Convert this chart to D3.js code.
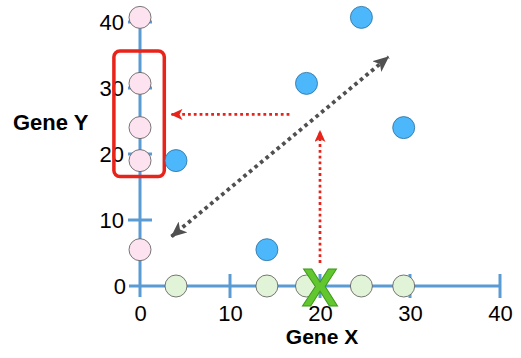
<!DOCTYPE html>
<html><head><meta charset="utf-8">
<script src="https://cdn.jsdelivr.net/npm/d3@7"></script>
<style>body{margin:0;background:#fff}svg{display:block}</style>
</head><body>
<script>
// Data
const geneX = [4, 14.1, 18.5, 24.6, 29.3];
const geneY = [19, 5.5, 30.7, 40.7, 24];
const xTicks = [0, 10, 20, 30, 40];
const yTicks = [0, 10, 20, 30, 40];
const xLabel = "Gene X";
const yLabel = "Gene Y";
const markX = [20];            // "X" marker position on Gene X axis
const diagArrow = [[3.5, 7.5], [27.6, 34.7]];
const hArrow = [[16.6, 26], [3.5, 26]];
const vArrow = [[20, 3.5], [20, 23.5]];
const boxX = [-2.9, 2.7];
const boxY = [16.6, 35.6];

const W = 521, H = 358;
const x = d3.scaleLinear().domain([0, 40]).range([140, 500]);
const y = d3.scaleLinear().domain([0, 40]).range([286, 22]);

const svg = d3.select("body").append("svg").attr("width", W).attr("height", H);
const defs = svg.append("defs");
function marker(id, color, w, h, reverse) {
  defs.append("marker").attr("id", id).attr("viewBox", `0 0 ${w} ${h}`)
    .attr("refX", reverse ? 1 : w - 1).attr("refY", h / 2).attr("markerWidth", w).attr("markerHeight", h)
    .attr("markerUnits", "userSpaceOnUse").attr("orient", "auto")
    .append("path").attr("d", reverse
      ? `M${w},0 L0,${h / 2} L${w},${h} L${w * 0.75},${h / 2} Z`
      : `M0,0 L${w},${h / 2} L0,${h} L${w * 0.25},${h / 2} Z`)
    .attr("fill", color);
}
marker("redHead", "#e8231a", 12, 11, false);
marker("grayHead", "#505050", 16, 14, false);
marker("grayHeadS", "#505050", 16, 14, true);

const axisColor = "#5b9bd3";
const font = "Liberation Sans, Arial, sans-serif";
const gx = svg.append("g").attr("transform", `translate(0,${y(0)})`)
  .call(d3.axisBottom(x).tickValues(xTicks).tickSize(0).tickPadding(0));
gx.select(".domain").remove();
gx.selectAll(".tick text").attr("font-family", font)
  .attr("font-size", 22).attr("fill", "#000").attr("dy", 0).attr("y", 35);
const gy = svg.append("g").attr("transform", `translate(${x(0)},0)`)
  .call(d3.axisLeft(y).tickValues(yTicks).tickSize(0).tickPadding(0));
gy.select(".domain").remove();
gy.selectAll(".tick text").attr("font-family", font)
  .attr("font-size", 22).attr("fill", "#000").attr("x", -16).attr("dy", "0.32em");
gy.selectAll(".tick text").filter(d => d === 0).attr("x", -14);

// axis lines
svg.append("line").attr("x1", x(0) - 11).attr("x2", x(40)).attr("y1", y(0)).attr("y2", y(0))
  .attr("stroke", axisColor).attr("stroke-width", 3);
svg.append("line").attr("x1", x(0)).attr("x2", x(0)).attr("y1", y(40)).attr("y2", y(0) + 11)
  .attr("stroke", axisColor).attr("stroke-width", 3);
svg.selectAll(".xt").data(xTicks.filter(d => d > 0)).join("line")
  .attr("x1", d => x(d)).attr("x2", d => x(d)).attr("y1", y(0) - 12).attr("y2", y(0) + 12)
  .attr("stroke", axisColor).attr("stroke-width", 3);
svg.selectAll(".yt").data(yTicks.filter(d => d > 0)).join("line")
  .attr("y1", d => y(d)).attr("y2", d => y(d)).attr("x1", x(0) - 12).attr("x2", x(0) + 12)
  .attr("stroke", axisColor).attr("stroke-width", 3);

// red box
svg.append("rect").attr("x", x(boxX[0])).attr("y", y(boxY[1]))
  .attr("width", x(boxX[1]) - x(boxX[0])).attr("height", y(boxY[0]) - y(boxY[1]))
  .attr("rx", 6).attr("fill", "none").attr("stroke", "#e8231a").attr("stroke-width", 3.5);

const r = 11;
svg.selectAll(".pink").data(geneY).join("circle")
  .attr("cx", x(0)).attr("cy", d => y(d)).attr("r", r)
  .attr("fill", "#fde3ef").attr("stroke", "#555").attr("stroke-width", 0.8);
svg.selectAll(".green").data(geneX).join("circle")
  .attr("cx", d => x(d)).attr("cy", y(0)).attr("r", r)
  .attr("fill", "#e1f4d8").attr("stroke", "#555").attr("stroke-width", 0.8);
svg.selectAll(".blue").data(geneX.map((d, i) => [d, geneY[i]])).join("circle")
  .attr("cx", d => x(d[0])).attr("cy", d => y(d[1])).attr("r", r)
  .attr("fill", "#4db7fc").attr("stroke", "#2a6f9e").attr("stroke-width", 0.8);

function arrow(pts, color, width, dash, start, end) {
  const l = svg.append("line")
    .attr("x1", x(pts[0][0])).attr("y1", y(pts[0][1]))
    .attr("x2", x(pts[1][0])).attr("y2", y(pts[1][1]))
    .attr("stroke", color).attr("stroke-width", width)
    .attr("stroke-dasharray", dash);
  if (start) l.attr("marker-start", `url(#${start})`);
  if (end) l.attr("marker-end", `url(#${end})`);
}
arrow(hArrow, "#e8231a", 2.7, "2.8 3", null, "redHead");
arrow(vArrow, "#e8231a", 2.7, "2.8 3", null, "redHead");
arrow(diagArrow, "#505050", 3.8, "3.6 3.6", "grayHeadS", "grayHead");

svg.selectAll(".mark").data(markX).join("text")
  .attr("x", d => x(d)).attr("y", y(0) + 20).attr("text-anchor", "middle")
  .attr("font-family", font).attr("font-weight", "bold")
  .attr("font-size", 54).attr("fill", "#62c62e").attr("stroke", "#3e9a1c").attr("stroke-width", 1)
  .text("X");

svg.append("text").attr("x", 322).attr("y", 344).attr("text-anchor", "middle")
  .attr("font-family", font).attr("font-weight", "bold")
  .attr("font-size", 21).text(xLabel);
svg.append("text").attr("x", 13).attr("y", 130)
  .attr("font-family", font).attr("font-weight", "bold")
  .attr("font-size", 22).text(yLabel);
</script>
</body></html>
